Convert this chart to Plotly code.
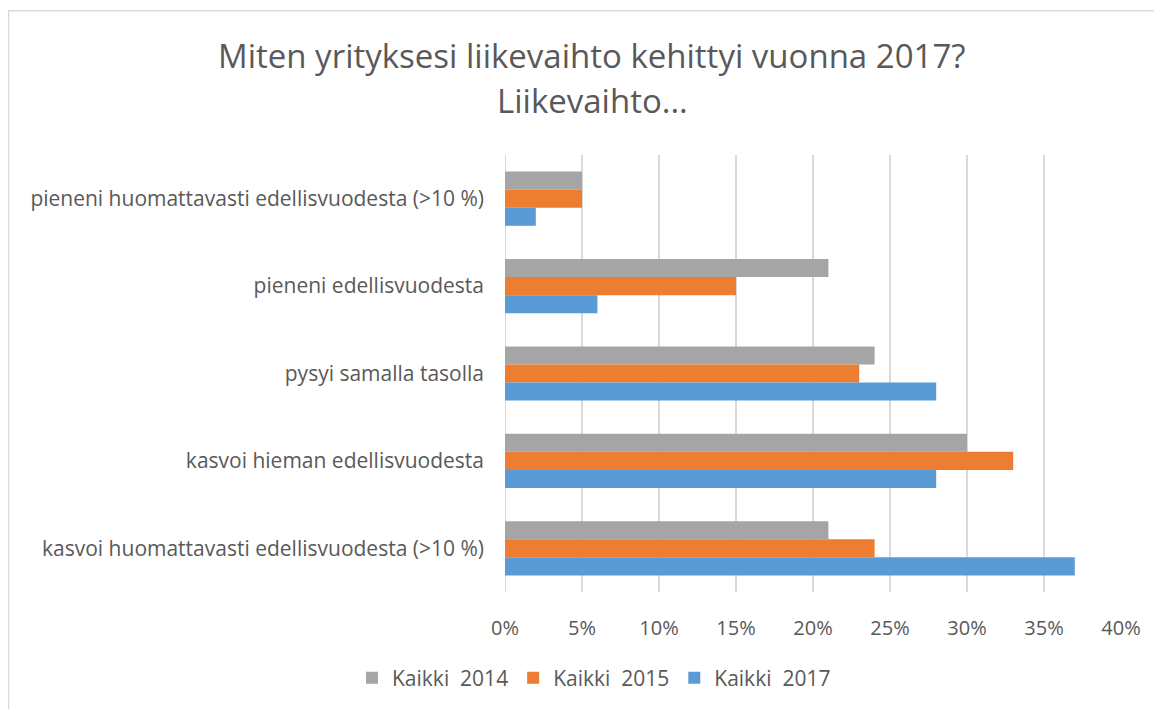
import plotly.graph_objects as go

# Categories (top to bottom) and series values in percent
categories = [
    "pieneni huomattavasti edellisvuodesta (>10 %)",
    "pieneni edellisvuodesta",
    "pysyi samalla tasolla",
    "kasvoi hieman edellisvuodesta",
    "kasvoi huomattavasti edellisvuodesta (>10 %)",
]
kaikki_2014 = [5, 21, 24, 30, 21]
kaikki_2015 = [5, 15, 23, 33, 24]
kaikki_2017 = [2, 6, 28, 28, 37]

series = [
    ("Kaikki  2014", kaikki_2014, "#A5A5A5"),
    ("Kaikki  2015", kaikki_2015, "#ED7D31"),
    ("Kaikki  2017", kaikki_2017, "#5B9BD5"),
]

tick_vals = [0, 5, 10, 15, 20, 25, 30, 35, 40]
tick_text = [f"{v}%" for v in tick_vals]

title_lines = ["Miten yrityksesi liikevaihto kehittyi vuonna 2017?", "Liikevaihto..."]

font_family = "Open Sans, Calibri, sans-serif"
text_color = "#595959"

fig = go.Figure()
for name, vals, color in series:
    fig.add_trace(go.Bar(
        y=categories, x=vals, name=name, orientation="h",
        marker=dict(color=color, line=dict(width=0)),
    ))

# page has an 8px body margin, so the figure is 8px smaller than the window
OFF = 8
W, H = 1162 - OFF, 709 - OFF
# plot area in window pixels: x 505..1121, y 155..593
L, R, T, B = 505 - OFF, 1162 - 1121, 155 - OFF, 709 - 593
pw, ph = W - L - R, H - T - B

def px_x(x):
    return (x - OFF - L) / pw

def px_y(y):
    return (H - B - (y - OFF)) / ph

fig.update_layout(
    width=W, height=H,
    margin=dict(l=L, r=R, t=T, b=B),
    paper_bgcolor="white", plot_bgcolor="white",
    barmode="group", bargap=0.38, bargroupgap=0,
    font=dict(family=font_family, color=text_color),
    xaxis=dict(
        range=[0, 40], tickvals=tick_vals, ticktext=tick_text,
        showgrid=True, gridcolor="#D9D9D9", gridwidth=2,
        zeroline=False, showline=False, ticks="",
        ticklabelstandoff=22, tickfont=dict(size=20, color=text_color),
    ),
    yaxis=dict(
        autorange="reversed", showgrid=False, showline=False, ticks="",
        ticklabelstandoff=20, tickfont=dict(size=21, color=text_color),
    ),
    legend=dict(
        orientation="h", x=px_x(594), xanchor="center",
        y=px_y(678), yanchor="middle",
        font=dict(size=21, color=text_color),
        itemwidth=30, traceorder="normal",
    ),
    shapes=[
        # left zero axis line
        dict(type="line", xref="x", yref="paper", x0=0, x1=0, y0=0, y1=1,
             line=dict(color="#D9D9D9", width=2), layer="below"),
        # chart area border (top and left visible)
        dict(type="rect", xref="paper", yref="paper",
             x0=px_x(8.5), x1=px_x(1190), y0=px_y(740), y1=px_y(10.5),
             line=dict(color="#D9D9D9", width=1.5)),
    ],
)

# title as two lines placed separately
for line, y in zip(title_lines, [55, 100]):
    fig.add_annotation(
        text=line, xref="paper", yref="paper", x=px_x(592), y=px_y(y),
        xanchor="center", yanchor="middle", showarrow=False,
        font=dict(size=33, color=text_color),
    )

fig.write_html("out.html")
